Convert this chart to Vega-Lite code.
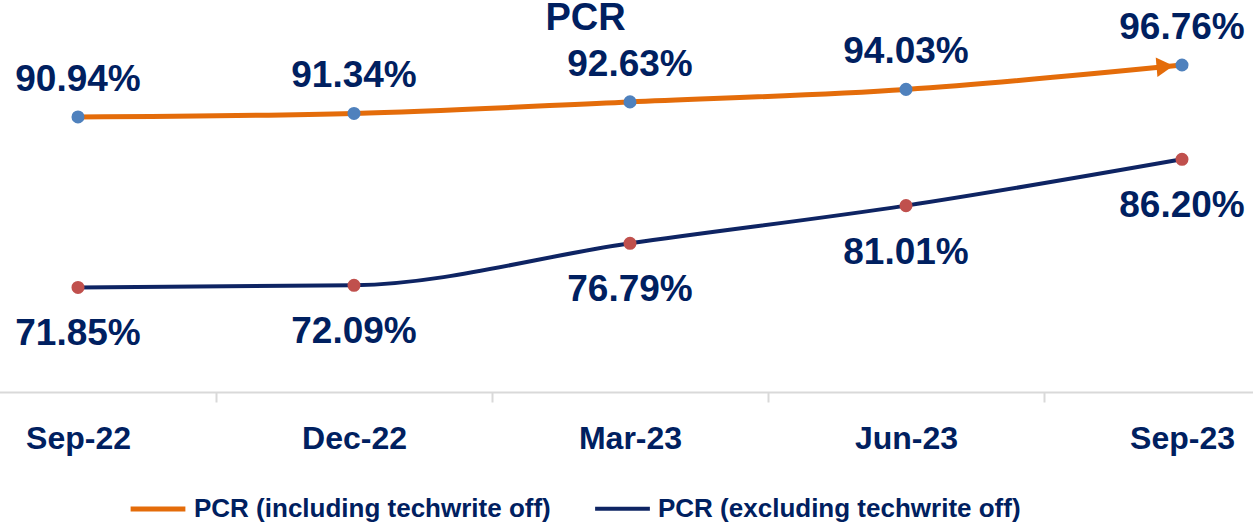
{
  "$schema": "https://vega.github.io/schema/vega-lite/v6.json",
  "width": 1253,
  "height": 362,
  "autosize": "none",
  "padding": {"left": 0, "top": 30, "right": 0, "bottom": 132},
  "title": {"text": "PCR", "fontSize": 38, "fontWeight": "bold", "color": "#002060", "anchor": "middle", "frame": "group", "dx": -41, "dy": 59, "baseline": "alphabetic", "offset": 0, "font": "Liberation Sans"},
  "data": {"values": [
    {"date": "Sep-22", "series": "PCR (including techwrite off)", "value": 90.94, "label": "90.94%"},
    {"date": "Dec-22", "series": "PCR (including techwrite off)", "value": 91.34, "label": "91.34%"},
    {"date": "Mar-23", "series": "PCR (including techwrite off)", "value": 92.63, "label": "92.63%"},
    {"date": "Jun-23", "series": "PCR (including techwrite off)", "value": 94.03, "label": "94.03%"},
    {"date": "Sep-23", "series": "PCR (including techwrite off)", "value": 96.76, "label": "96.76%"},
    {"date": "Sep-22", "series": "PCR (excluding techwrite off)", "value": 71.85, "label": "71.85%"},
    {"date": "Dec-22", "series": "PCR (excluding techwrite off)", "value": 72.09, "label": "72.09%"},
    {"date": "Mar-23", "series": "PCR (excluding techwrite off)", "value": 76.79, "label": "76.79%"},
    {"date": "Jun-23", "series": "PCR (excluding techwrite off)", "value": 81.01, "label": "81.01%"},
    {"date": "Sep-23", "series": "PCR (excluding techwrite off)", "value": 86.20, "label": "86.20%"}
  ]},
  "encoding": {
    "x": {"field": "date", "type": "nominal", "sort": ["Sep-22", "Dec-22", "Mar-23", "Jun-23", "Sep-23"],
      "scale": {"type": "band", "range": [-60, 1320], "paddingInner": 0, "paddingOuter": 0},
      "axis": {"title": null, "labelAngle": 0, "domainColor": "#d9d9d9", "domainWidth": 2, "tickColor": "#d9d9d9", "tickWidth": 2, "tickSize": 10, "tickBand": "extent", "labelFontSize": 32, "labelFontWeight": "bold", "labelColor": "#002060", "labelPadding": 21, "labelFont": "Liberation Sans"}},
    "y": {"field": "value", "type": "quantitative", "scale": {"domain": [60.14, 100.68], "nice": false, "zero": false}, "axis": null}
  },
  "layer": [
    {
      "mark": {"type": "line", "interpolate": "monotone"},
      "encoding": {
        "color": {"field": "series", "type": "nominal",
          "scale": {"domain": ["PCR (including techwrite off)", "PCR (excluding techwrite off)"], "range": ["#E46C0A", "#0E2463"]},
          "legend": {"title": null, "orient": "none", "direction": "horizontal", "legendX": 128, "legendY": 449, "symbolType": "stroke", "symbolStrokeWidth": 5, "symbolSize": 3000, "labelFontSize": 26, "labelFontWeight": "bold", "labelColor": "#002060", "labelFont": "Liberation Sans", "labelLimit": 600, "columnPadding": 36, "labelOffset": 6}},
        "strokeWidth": {"field": "series", "type": "nominal", "scale": {"domain": ["PCR (including techwrite off)", "PCR (excluding techwrite off)"], "range": [5, 4]}, "legend": null}
      }
    },
    {
      "transform": [{"filter": "datum.series === 'PCR (including techwrite off)' && datum.date === 'Sep-23'"}],
      "mark": {"type": "point", "shape": "triangle-right", "filled": true, "color": "#E46C0A", "size": 380, "xOffset": -17, "yOffset": 1.5, "angle": -5, "opacity": 1}
    },
    {
      "mark": {"type": "point", "filled": true, "size": 170, "opacity": 1},
      "encoding": {
        "fill": {"condition": {"test": "datum.series === 'PCR (including techwrite off)'", "value": "#4F81BD"}, "value": "#C0504D"}
      }
    },
    {
      "transform": [{"filter": "datum.series === 'PCR (including techwrite off)'"}],
      "mark": {"type": "text", "baseline": "alphabetic", "dy": -26, "fontSize": 37, "fontWeight": "bold", "color": "#002060", "font": "Liberation Sans"},
      "encoding": {"text": {"field": "label"}}
    },
    {
      "transform": [{"filter": "datum.series === 'PCR (excluding techwrite off)'"}],
      "mark": {"type": "text", "baseline": "alphabetic", "dy": 58, "fontSize": 37, "fontWeight": "bold", "color": "#002060", "font": "Liberation Sans"},
      "encoding": {"text": {"field": "label"}}
    }
  ],
  "config": {"view": {"stroke": null}, "font": "Liberation Sans"}
}
